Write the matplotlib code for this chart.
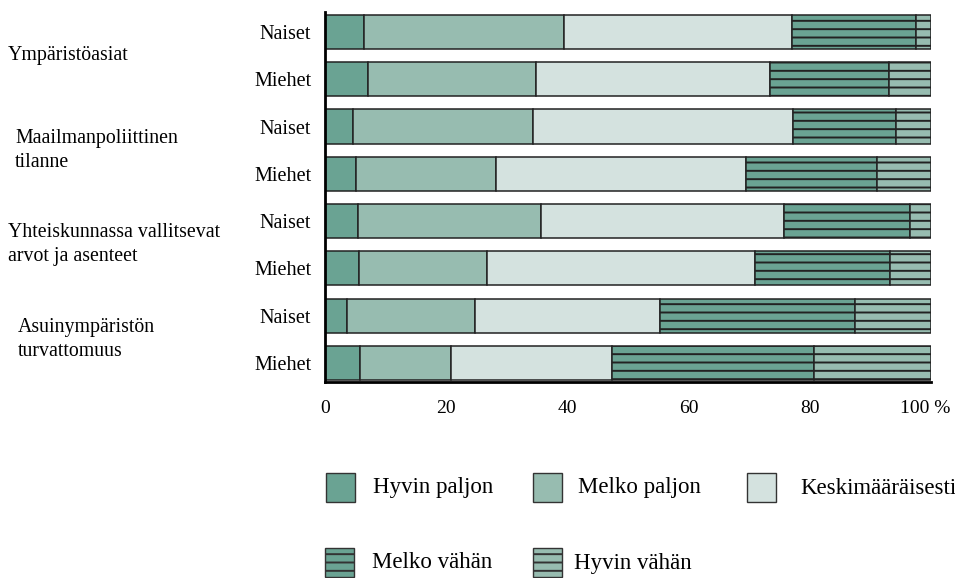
import matplotlib
matplotlib.use("Agg")
import matplotlib.pyplot as plt
from matplotlib.patches import Rectangle
from matplotlib.transforms import blended_transform_factory, ScaledTranslation
import numpy as np

plt.rcParams['font.family'] = ['Liberation Serif', 'DejaVu Serif']
plt.rcParams['hatch.linewidth'] = 1.4

# data (% of respondents), rows top to bottom
groups = ['Ympäristöasiat', 'Maailmanpoliittinen\ntilanne',
          'Yhteiskunnassa vallitsevat\narvot ja asenteet', 'Asuinympäristön\nturvattomuus']
rows = ['Naiset', 'Miehet'] * 4
categories = ['Hyvin paljon', 'Melko paljon', 'Keskimääräisesti', 'Melko vähän', 'Hyvin vähän']
hyvin_paljon = [6.4, 7.1, 4.6, 5.1, 5.4, 5.6, 3.7, 5.8]
melko_paljon = [33.1, 27.8, 29.7, 23.2, 30.2, 21.2, 21.1, 15.0]
keskim = [37.6, 38.5, 43.0, 41.1, 40.2, 44.1, 30.5, 26.6]
melko_vahan = [20.5, 19.6, 16.9, 21.7, 20.7, 22.3, 32.2, 33.3]
hyvin_vahan = [2.4, 7.0, 5.8, 8.9, 3.5, 6.8, 12.5, 19.3]

series = [hyvin_paljon, melko_paljon, keskim, melko_vahan, hyvin_vahan]
colors = ['#6aa393', '#97bcb0', '#d4e2df', '#6aa393', '#97bcb0']
hatches = [None, None, None, '--', '--']

W, H = 955, 578
fig = plt.figure(figsize=(W / 100, H / 100), dpi=100)
ax = fig.add_axes([325 / W, 1 - 382 / H, 606 / W, 370 / H])

y = np.arange(len(rows))
left = np.zeros(len(rows))
for vals, c, h in zip(series, colors, hatches):
    ax.barh(y, vals, left=left, height=0.72, color=c, edgecolor='#222222',
            linewidth=1.1, hatch=h)
    left += np.array(vals)

ax.set_xlim(0, 100)
ax.set_ylim(7.4, -0.42)
ax.set_yticks(y)
ax.set_yticklabels(rows, fontsize=14.5)
ax.set_xticks([0, 20, 40, 60, 80, 100])
ax.set_xticklabels(['0', '20', '40', '60', '80', '100 %'], fontsize=14)
ax.tick_params(length=0, pad=10)
ax.tick_params(axis='x', pad=13)
last = ax.get_xticklabels()[-1]
last.set_transform(last.get_transform() + ScaledTranslation(-6 / 100, 0, fig.dpi_scale_trans))
for s in ['top', 'right']:
    ax.spines[s].set_visible(False)
ax.spines['left'].set_linewidth(2)
ax.spines['bottom'].set_linewidth(2)

# group labels
trans = blended_transform_factory(fig.transFigure, ax.transData)
group_x = [8, 15, 8, 18]
for i, (g, gx) in enumerate(zip(groups, group_x)):
    yc = 2 * i + 0.5
    ax.text(gx / W, yc, g, transform=trans, fontsize=14.3,
            ha='left', va='center', linespacing=1.35)

# legend drawn manually: (square x, centre y, text x) in pixels
leg_pos = [(326, 487, 373), (533, 487, 578), (747, 487, 800), (325, 562, 372), (533, 562, 574)]
for (sx, sy, tx), cat, c, h in zip(leg_pos, categories, colors, hatches):
    fig.add_artist(Rectangle((sx / W, 1 - (sy + 14.5) / H), 29 / W, 29 / H,
                             transform=fig.transFigure, facecolor=c,
                             edgecolor='#333333', linewidth=1, hatch=h))
    fig.text(tx / W, 1 - (sy + 1) / H, cat, fontsize=16.5, ha='left', va='center')

fig.savefig('out.png', dpi=100)
